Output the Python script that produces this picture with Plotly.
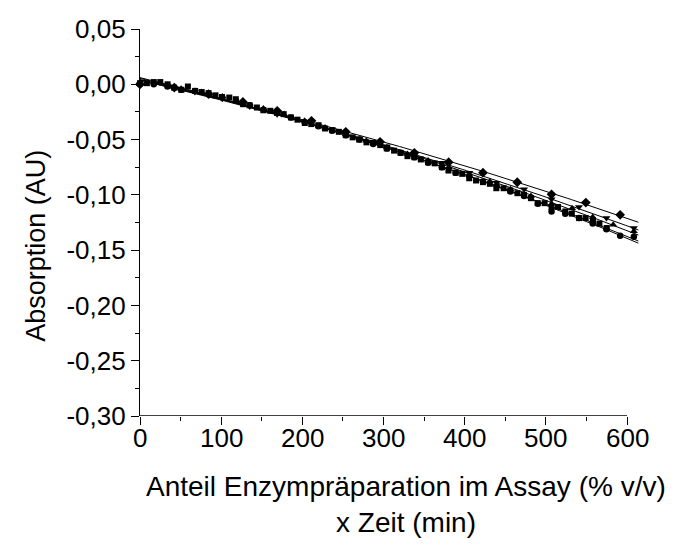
import numpy as np
import plotly.graph_objects as go

# ---- data ----
sq_x = [0, 8.5, 17, 25, 34, 42, 51, 59, 68, 76, 84.5, 93, 101, 110, 118, 127, 135, 144, 152, 160.5,
        169, 177, 186, 194, 203, 211, 220, 228, 237, 245, 253.5, 262, 270, 279, 287, 296, 304, 313,
        321, 329.5, 338, 346, 355, 363, 372, 380, 389, 397, 405.6, 414, 422.5, 431, 439, 448, 456,
        465, 473, 481.6, 490, 498.5, 507, 515, 524, 532, 541, 549, 558, 566, 575]
sq_y = [0.001, 0.001, 0.002, 0.002, 0.000, -0.003, -0.005, -0.002, -0.006, -0.007, -0.008, -0.010,
        -0.0115, -0.012, -0.0135, -0.018, -0.019, -0.021, -0.0235, -0.024, -0.026, -0.027, -0.030,
        -0.032, -0.035, -0.036, -0.037, -0.040, -0.0415, -0.043, -0.046, -0.048, -0.050, -0.0525,
        -0.053, -0.055, -0.058, -0.060, -0.062, -0.065, -0.066, -0.068, -0.0705, -0.0715, -0.075,
        -0.078, -0.080, -0.081, -0.085, -0.087, -0.0885, -0.090, -0.094, -0.094, -0.096, -0.0985,
        -0.100, -0.103, -0.1075, -0.1075, -0.111, -0.111, -0.115, -0.117, -0.121, -0.121, -0.123,
        -0.126, -0.130]

ci_x = [0, 16.9, 33.8, 50.7, 67.6, 84.5, 101.4, 118.3, 135.2, 152.1, 169, 185.9, 202.8, 219.7,
        236.6, 253.5, 270.4, 287.3, 304.2, 321.1, 338, 354.9, 371.8, 388.7, 405.6, 422.5, 439.4,
        456.3, 473.2, 490.1, 507, 523.9, 540.8, 557.7, 574.6, 591.5, 608.4]
ci_y = [0.000, 0.000, -0.002, -0.005, -0.006, -0.009, -0.012, -0.015, -0.019, -0.023, -0.026,
        -0.030, -0.034, -0.038, -0.042, -0.046, -0.050, -0.054, -0.058, -0.062, -0.066, -0.071,
        -0.075, -0.080, -0.083, -0.088, -0.092, -0.097, -0.101, -0.108, -0.115, -0.117, -0.121,
        -0.126, -0.131, -0.137, -0.138]

tu_x = [0, 25.35, 50.7, 76, 101.4, 126.75, 152, 177.45, 202.8, 228, 253.5, 278.85, 304.2, 329.55,
        354.9, 380.25, 405.6, 430.95, 456.3, 481.65, 507, 532.35, 557.7, 583, 608.4]
tu_y = [0.000, 0.001, -0.004, -0.007, -0.011, -0.016, -0.022, -0.027, -0.033, -0.039, -0.045,
        -0.051, -0.057, -0.063, -0.069, -0.075, -0.082, -0.088, -0.095, -0.101, -0.108, -0.112,
        -0.120, -0.127, -0.133]

td_x = [0, 33.8, 67.6, 101.4, 135.2, 169, 202.8, 236.6, 270.4, 304.2, 338, 371.8, 405.6, 439.4,
        473.2, 507, 540.8, 574.6, 608.4]
td_y = [0.000, -0.001, -0.007, -0.013, -0.020, -0.027, -0.034, -0.041, -0.049, -0.056, -0.064,
        -0.071, -0.080, -0.089, -0.095, -0.104, -0.111, -0.121, -0.130]

di_x = [0, 42.25, 84.5, 126.75, 169, 211.25, 253.5, 295.75, 338, 380.25, 422.5, 464.75, 507,
        549.25, 591.5]
di_y = [0.000, -0.003, -0.009, -0.016, -0.024, -0.033, -0.043, -0.052, -0.062, -0.0705, -0.080,
        -0.0886, -0.0995, -0.107, -0.118]

x_ticks = [0, 100, 200, 300, 400, 500, 600]
y_ticks = [0.05, 0.00, -0.05, -0.10, -0.15, -0.20, -0.25, -0.30]
y_ticktext = [f"{v:.2f}".replace(".", ",") for v in y_ticks]

x_title_1 = "Anteil Enzympräparation im Assay (% v/v)"
x_title_2 = "x Zeit (min)"
y_title = "Absorption (AU)"

FONT = "Liberation Sans, Arial, sans-serif"

series = [
    (sq_x, sq_y, "square", 6),
    (ci_x, ci_y, "circle", 6.5),
    (tu_x, tu_y, "triangle-up", 7),
    (td_x, td_y, "triangle-down", 7),
    (di_x, di_y, "diamond", 7.5),
]

fig = go.Figure()
fit_x = np.linspace(0, 614, 120)
for xs, ys, sym, size in series:
    c = np.polyfit(np.array(xs), np.array(ys), 2)
    fig.add_trace(go.Scatter(x=fit_x, y=np.polyval(c, fit_x), mode="lines",
                             line=dict(color="black", width=1), showlegend=False,
                             hoverinfo="skip"))
for xs, ys, sym, size in series:
    fig.add_trace(go.Scatter(x=xs, y=ys, mode="markers",
                             marker=dict(symbol=sym, size=size, color="black",
                                         line=dict(width=0)),
                             showlegend=False, cliponaxis=False))

# x axis line only up to 600
fig.add_shape(type="line", xref="x", yref="y", x0=0, x1=600, y0=-0.30, y1=-0.30,
              line=dict(color="black", width=1.3))

annotations = [
    dict(text=x_title_1, xref="paper", yref="paper", x=0.525, y=-0.181,
         xanchor="center", yanchor="middle", showarrow=False, font=dict(size=28)),
    dict(text=x_title_2, xref="paper", yref="paper", x=0.525, y=-0.276,
         xanchor="center", yanchor="middle", showarrow=False, font=dict(size=28)),
    dict(text=y_title, xref="paper", yref="paper", x=-0.205, y=0.44, textangle=-90,
         xanchor="center", yanchor="middle", showarrow=False, font=dict(size=27)),
]
for v in x_ticks:
    annotations.append(dict(text=str(v), xref="x", yref="paper", x=v, y=0,
                            xanchor="center", yanchor="top", yshift=-5,
                            showarrow=False, font=dict(size=26)))

fig.update_layout(
    width=674, height=547,
    margin=dict(l=140, r=27, t=29, b=131),
    paper_bgcolor="white", plot_bgcolor="white",
    font=dict(family=FONT, size=26, color="black"),
    xaxis=dict(range=[0, 624.6], showline=False, showgrid=False, zeroline=False,
               tickmode="array", tickvals=x_ticks, showticklabels=False,
               ticks="outside", ticklen=8, tickwidth=1.2, tickcolor="black",
               minor=dict(tickmode="array", tickvals=[50, 150, 250, 350, 450, 550],
                          ticks="outside", ticklen=4, tickwidth=1.2, tickcolor="black")),
    yaxis=dict(range=[-0.30, 0.05], showline=True, linecolor="black", linewidth=1.3,
               showgrid=False, zeroline=False,
               tickmode="array", tickvals=y_ticks, ticktext=y_ticktext,
               ticks="outside", ticklen=8, tickwidth=1.2, tickcolor="black",
               minor=dict(tickmode="array",
                          tickvals=[0.025, -0.025, -0.075, -0.125, -0.175, -0.225, -0.275],
                          ticks="outside", ticklen=4, tickwidth=1.2, tickcolor="black"),
               tickfont=dict(size=26)),
    annotations=annotations,
)

fig.write_html("out.html")
